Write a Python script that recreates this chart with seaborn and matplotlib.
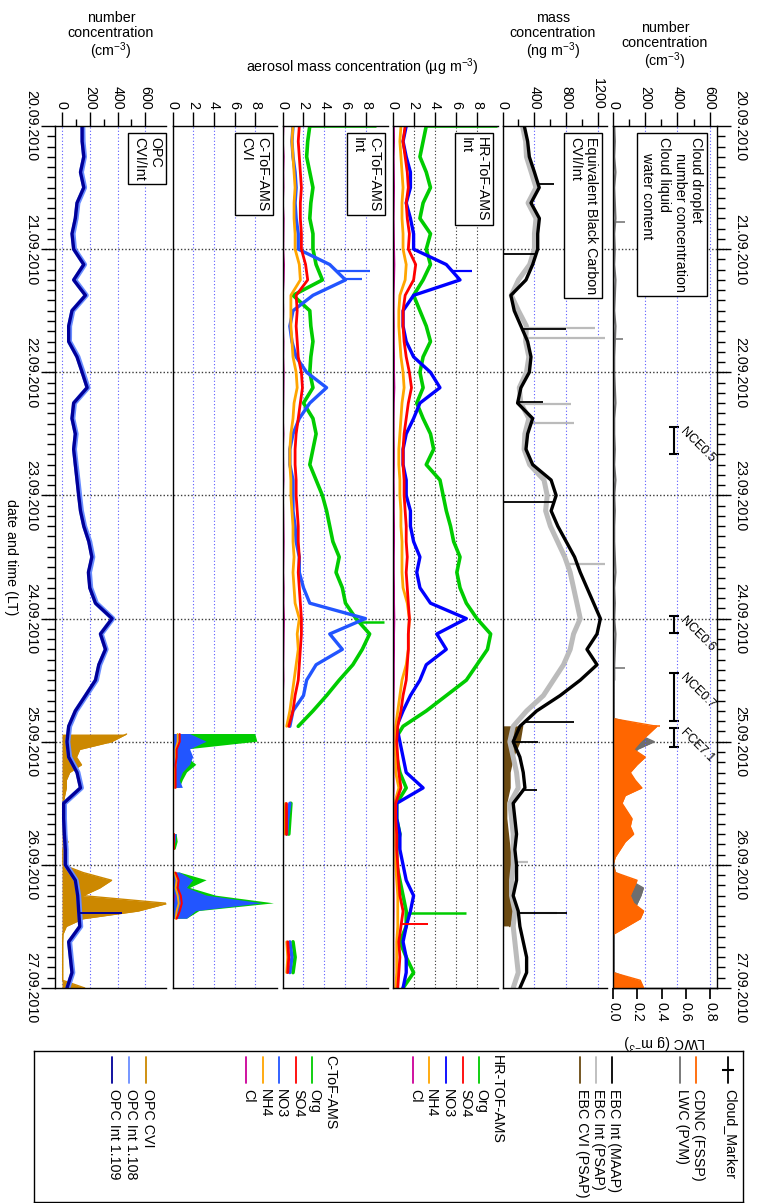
"""
Cloud and aerosol time series 20.09.-27.09.2010, drawn turned by 90 degrees:
time runs downward, the six panels sit side by side and text reads top-down.
Writes out.png (760 x 1203 px).
"""

import numpy as np
import matplotlib
matplotlib.use("Agg")
import matplotlib.pyplot as plt
import seaborn as sns
from matplotlib.ticker import FixedLocator, MultipleLocator, FormatStrFormatter, NullLocator

nan = np.nan

# ---------------------------------------------------------------------------
# Data. Time is in days since 20.09.2010 00:00 LT.
# 3-hourly series: one row per day (8 values) plus the 27.09 00:00 value.
# Cloud period series: 1.5-hourly from 24.09 12:00 to 27.09 00:00.
# ---------------------------------------------------------------------------
t3 = np.arange(57) / 8.0
tc = 4.5 + np.arange(41) / 16.0

date_labels = ["20.09.2010", "21.09.2010", "22.09.2010", "23.09.2010",
               "24.09.2010", "25.09.2010", "26.09.2010", "27.09.2010"]
day_ticks = [0, 1, 2, 3, 4, 5, 6, 7]
day_lines = [1, 2, 3, 4, 5, 6]

# OPC (cm-3)
opc_int109 = [145, 145, 157, 133, 157, 108, 96, 72,
              84, 157, 84, 169, 72, 48, 48, 108,
              145, 181, 84, 72, 96, 84, 96, 108,
              120, 133, 157, 193, 215, 190, 200, 241,
              361, 277, 313, 265, 241, 169, 96, 48,
              36, 48, 108, 133, 12, 12, 17, 24,
              24, 96, 113, 120, 128, 48, 60, 72,
              36]
opc_int108 = [150, 152, 162, 140, 163, 115, 102, 80,
              90, 163, 92, 175, 78, 55, 54, 115,
              152, 187, 90, 78, 102, 90, 102, 115,
              127, 140, 163, 200, 222, 198, 207, 248,
              366, 283, 318, 272, 248, 175, 102, 55,
              42, 55, 115, 140, 18, 18, 22, 30,
              30, 102, 120, 127, 135, 55, 66, 78,
              42]
opc_cvi = [nan, nan, nan, nan, nan, nan, nan, 465, 357, 128, 104, 140, 55, 31,
           31, 19, 10, 8, 5, 5, 10, 43, 7, 7, 7, 152, 357, 272, 152, 760, 549,
           152, 31, 7, 5, 5, 5, 5, 5, 5, 164]
opc_spike_t = [0.004, 6.39]
opc_spike_v = [456, 429]

# C-ToF-AMS CVI (ug m-3), cloud grid
cvi_org = [nan] * 7 + [8.0, 8.2, 1.4, 1.4, 2.3, 1.4, 1.0, 0.7] + [nan] * 5 + \
          [0.4, 0.5, 0.3, nan, nan, 0.7, 3.3, 1.7, 4.2, 9.8, 2.6, 1.4] + [nan] * 9
cvi_no3 = [nan] * 7 + [1.7, 3.3, 1.7, 2.0, 1.7, 1.0, 0.7, 1.0] + [nan] * 5 + \
          [0.4, 0.3, 0.1, nan, nan, 0.7, 2.0, 1.4, 3.3, 8.7, 2.3, 1.4] + [nan] * 9
cvi_so4 = [nan] * 7 + [0.7, 0.7, 0.4, 0.4, 0.3, 0.3, 0.3, 0.3] + [nan] * 5 + \
          [0.1, 0.1, 0.1, nan, nan, 0.3, 0.6, 0.5, 0.8, 0.9, 0.7, 0.4] + [nan] * 9
cvi_nh4 = [nan] * 7 + [0.5, 0.5, 0.3, 0.3, 0.3, 0.2, 0.2, 0.2] + [nan] * 5 + \
          [0.1, 0.1, 0.1, nan, nan, 0.2, 0.4, 0.3, 0.5, 0.6, 0.4, 0.3] + [nan] * 9
cvi_cl = [nan] * 7 + [-0.3, 0.1, 0.0, -0.2, 0.1, 0.0, -0.1, 0.1] + [nan] * 5 + \
         [0.0, 0.1, 0.0, nan, nan, -0.2, 0.1, -0.3, 0.2, 0.1, -0.2, 0.0] + [nan] * 9

# C-ToF-AMS Int (ug m-3)
int_org = [2.6, 2.4, 2.3, 2.6, 2.9, 2.7, 2.6, 2.9,
           2.9, 3.2, 3.8, 1.0, 2.6, 2.7, 2.9, 2.7,
           2.6, 2.9, 2.0, 2.9, 3.2, 2.9, 2.6, 3.2,
           3.8, 4.2, 4.5, 4.8, 5.4, 5.1, 5.7, 6.0,
           7.0, 8.3, 7.6, 6.7, 5.4, 4.2, 2.9, 1.5,
           nan, nan, nan, nan, 0.8, 0.7, 0.6, nan,
           nan, nan, nan, nan, nan, 1.0, 1.2, 1.0,
           nan]
int_no3 = [1.0, 0.9, 1.0, 1.2, 1.3, 1.2, 1.3, 1.5,
           1.5, 4.5, 6.0, 2.9, 1.0, 0.7, 0.9, 1.3,
           2.3, 4.2, 2.6, 1.6, 1.0, 0.7, 0.7, 1.0,
           1.0, 1.0, 1.2, 1.3, 1.6, 1.6, 2.0, 2.6,
           7.9, 4.5, 5.7, 3.2, 2.3, 2.0, 1.0, 0.7,
           nan, nan, nan, nan, 0.7, 0.5, 0.4, nan,
           nan, nan, nan, nan, nan, 0.7, 0.9, 0.7,
           nan]
int_so4 = [1.6, 1.5, 1.6, 1.7, 1.8, 1.7, 1.7, 1.8,
           1.8, 2.2, 2.4, 1.3, 1.4, 1.3, 1.4, 1.5,
           1.8, 1.9, 1.7, 1.5, 1.3, 1.2, 1.2, 1.3,
           1.3, 1.4, 1.5, 1.5, 1.6, 1.5, 1.6, 1.7,
           1.8, 1.8, 1.7, 1.6, 1.5, 1.2, 1.0, 0.6,
           nan, nan, nan, nan, 0.3, 0.3, 0.3, nan,
           nan, nan, nan, nan, nan, 0.5, 0.6, 0.5,
           nan]
int_nh4 = [1.0, 0.9, 1.0, 1.1, 1.2, 1.1, 1.1, 1.2,
           1.2, 1.6, 1.7, 0.8, 0.8, 0.8, 0.9, 1.0,
           1.3, 1.4, 1.1, 1.0, 0.8, 0.7, 0.7, 0.8,
           0.8, 0.9, 1.0, 1.0, 1.1, 1.0, 1.1, 1.2,
           1.6, 1.4, 1.5, 1.3, 1.1, 0.9, 0.7, 0.4,
           nan, nan, nan, nan, 0.3, 0.2, 0.2, nan,
           nan, nan, nan, nan, nan, 0.4, 0.5, 0.4,
           nan]
int_cl = [0.10, 0.05, 0.12, 0.08, 0.10, 0.05, 0.12, 0.10,
          0.08, 0.15, 0.12, 0.05, 0.08, 0.05, 0.10, 0.08,
          0.12, 0.10, 0.08, 0.05, 0.10, 0.05, 0.08, 0.10,
          0.05, 0.08, 0.10, 0.12, 0.10, 0.08, 0.12, 0.10,
          0.15, 0.12, 0.10, 0.08, 0.10, 0.05, 0.05, 0.02,
          nan, nan, nan, nan, 0.02, 0.00, 0.02, nan,
          nan, nan, nan, nan, nan, 0.05, 0.02, 0.05,
          nan]
int_org_spike_t = [0.004, 4.03]
int_org_spike_v = [8.9, 9.7]
int_no3_spike_t = [1.18, 1.24]
int_no3_spike_v = [8.3, 7.6]

# HR-ToF-AMS Int (ug m-3)
hr_org = [3.2, 2.9, 2.6, 3.2, 3.6, 2.9, 2.6, 3.6,
          3.2, 3.6, 2.9, 2.0, 2.6, 3.2, 3.6, 2.9,
          2.6, 2.9, 2.3, 2.9, 3.6, 3.9, 3.2, 4.5,
          4.8, 5.1, 5.5, 5.8, 6.4, 6.1, 6.4, 7.0,
          8.0, 9.3, 9.0, 8.0, 7.0, 5.1, 3.2, 1.0,
          0.1, 0.4, 0.7, 1.3, 0.4, 0.4, 0.7, 0.4,
          0.4, 0.7, 1.0, 1.3, 1.3, 0.7, 1.3, 2.0,
          1.0]
hr_no3 = [1.3, 1.0, 1.3, 1.7, 1.7, 1.3, 1.7, 2.0,
          2.0, 5.1, 6.4, 2.0, 1.0, 1.0, 1.3, 2.0,
          3.6, 4.5, 2.6, 2.0, 1.3, 1.0, 1.0, 1.3,
          1.3, 1.7, 1.7, 2.0, 2.6, 2.3, 2.6, 3.6,
          7.0, 4.2, 5.1, 3.2, 2.6, 1.7, 1.0, 0.4,
          0.7, 1.0, 1.3, 2.9, 0.4, 0.4, 0.7, 0.7,
          1.0, 1.3, 2.0, 1.7, 1.3, 1.0, 1.3, 1.3,
          1.0]
hr_so4 = [1.2, 1.0, 1.2, 1.4, 1.5, 1.3, 1.4, 1.6,
          1.5, 2.2, 2.0, 1.2, 1.0, 1.0, 1.1, 1.3,
          1.6, 1.8, 1.5, 1.3, 1.1, 1.0, 1.0, 1.1,
          1.1, 1.2, 1.3, 1.3, 1.4, 1.3, 1.4, 1.5,
          1.6, 1.5, 1.5, 1.4, 1.3, 1.0, 0.8, 0.5,
          0.4, 0.5, 0.6, 0.8, 0.3, 0.3, 0.4, 0.4,
          0.5, 0.6, 0.7, 1.0, 0.8, 0.6, 0.7, 0.6,
          0.5]
hr_nh4 = [0.8, 0.7, 0.8, 0.9, 1.0, 0.9, 0.9, 1.0,
          1.0, 1.3, 1.2, 0.7, 0.6, 0.6, 0.7, 0.8,
          1.0, 1.1, 0.9, 0.8, 0.7, 0.6, 0.6, 0.7,
          0.7, 0.8, 0.8, 0.9, 0.9, 0.9, 1.0, 1.4,
          1.6, 1.5, 1.5, 1.3, 0.9, 0.7, 0.5, 0.3,
          0.2, 0.3, 0.3, 0.6, 0.2, 0.2, 0.2, 0.3,
          0.3, 0.4, 0.5, 0.5, 0.5, 0.4, 0.4, 0.4,
          0.3]
hr_cl = [0.10, 0.12, 0.08, 0.10, 0.12, 0.10, 0.08, 0.10,
         0.12, 0.15, 0.12, 0.08, 0.08, 0.10, 0.10, 0.12,
         0.12, 0.15, 0.10, 0.08, 0.08, 0.10, 0.10, 0.08,
         0.10, 0.10, 0.12, 0.12, 0.10, 0.10, 0.12, 0.12,
         0.15, 0.12, 0.12, 0.10, 0.10, 0.08, 0.06, 0.05,
         0.05, 0.05, 0.06, 0.08, 0.04, 0.04, 0.05, 0.05,
         0.05, 0.06, 0.08, 0.08, 0.06, 0.05, 0.06, 0.06,
         0.05]
hr_org_spike_t = [0.004, 6.39]
hr_org_spike_v = [9.9, 7.0]
hr_no3_spike_t = [1.18]
hr_no3_spike_v = [7.5]
hr_so4_spike_t = [6.48]
hr_so4_spike_v = [3.4]

# Equivalent black carbon (ng m-3)
ebc_maap = [273, 315, 336, 400, 460, 357, 462, 441,
            441, 378, 294, 105, 147, 231, 315, 357,
            336, 231, 189, 378, 315, 294, 378, 609,
            672, 609, 693, 798, 903, 974, 1058, 1142,
            1226, 1184, 1058, 1184, 974, 722, 428, 218,
            134, 218, 260, 281, 134, 155, 176, 155,
            176, 176, 134, 197, 218, 260, 302, 302,
            218]
ebc_psap = [250, 290, 300, 360, 420, 320, 420, 400,
            400, 340, 200, 110, 200, 300, 290, 330,
            300, 210, 230, 330, 280, 270, 340, 520,
            560, 540, 600, 690, 780, 848, 890, 932,
            974, 890, 848, 764, 638, 512, 302, 134,
            92, 134, 176, 197, 92, 113, 134, 134,
            134, 113, 113, 155, 134, 155, 176, 197,
            134]
ebc_cvi = [0, 0, 0, 0, nan, nan, nan, nan,
           nan, nan, nan, nan, nan, nan, nan, nan,
           nan, nan, nan, nan, nan, nan, nan, nan,
           nan, nan, nan, nan, nan, nan, nan, nan,
           nan, nan, nan, nan, nan, nan, nan, 250,
           218, 134, 92, 92, 50, 50, 71, 92,
           113, 134, 134, 134, 92, nan, nan, nan,
           nan]
maap_spike_t = [0.47, 1.04, 1.65, 2.24, 3.05, 4.84, 5.0, 5.39, 6.39]
maap_spike_v = [650, 0, 800, 505, 0, 890, 450, 430, 805]
psap_spike_t = [1.64, 1.72, 2.26, 2.41, 3.56, 5.98, 6.39]
psap_spike_v = [1155, 1280, 860, 900, 1290, 323, 680]

# Cloud droplets (cm-3) and liquid water content (g m-3)
cdnc = [0, 0, 0, 0, 0, 0, 272, 221, 169, 128, 200, 149, 107, 138, 179, 76,
        56, 87, 118, 107, 128, 76, 45, 14, 0, 14, 149, 128, 107, 128, 190,
        169, 87, 4, 0, 0, 0, 0, 0, 169, 190]
lwc_cloud = [0.01, 0.01, 0.01, 0.01, 0.01, 0.01, 0.25, 0.20, 0.34, 0.20, 0.17,
             0.14, 0.09, 0.12, 0.14, 0.06, 0.03, 0.06, 0.09, 0.12, 0.09, 0.06,
             0.03, 0.01, 0.005, 0.02, 0.14, 0.25, 0.23, 0.20, 0.17, 0.14, 0.06,
             0.01, 0.01, 0.01, 0.01, 0.01, 0.01, 0.17, 0.06]
lwc_clear = [0.010, 0.015, 0.010, 0.020, 0.010, 0.015, 0.020, 0.010,
             0.015, 0.010, 0.020, 0.015, 0.010, 0.020, 0.015, 0.010,
             0.010, 0.015, 0.020, 0.010, 0.010, 0.015, 0.010, 0.020,
             0.010, 0.015, 0.010, 0.010, 0.015, 0.020, 0.010, 0.015,
             0.010, 0.020, 0.015, 0.010, 0.010]
lwc_spike_t = [0.78, 1.73, 4.40]
lwc_spike_v = [0.10, 0.08, 0.10]
cdnc_spike_t = [4.87]
cdnc_spike_v = [293]

# cloud events (days), drawn on the LWC scale
cm_labels = ["NCE0.5", "NCE0.6", "NCE0.7", "FCE7.1"]
cm_start = [2.447, 3.98, 4.44, 4.89]
cm_end = [2.667, 4.12, 4.83, 5.04]
cm_level = 0.5

# ---------------------------------------------------------------------------
# Colours
# ---------------------------------------------------------------------------
C_ORG, C_SO4, C_NH4, C_CL = "#00CC00", "#FF0000", "#FFA500", "#CC0099"
C_NO3_HR, C_NO3_C = "#0000FF", "#2255FF"
C_OPC109, C_OPC108, C_OPCCVI = "#000099", "#6A8DFF", "#CC8800"
C_MAAP, C_PSAP, C_EBCCVI = "#000000", "#BBBBBB", "#6B4A12"
C_CDNC, C_LWC = "#FF6600", "#6E6E6E"
GRID_BLUE, GRID_BLACK = "#5a5aff", "#333333"

sns.set_theme(style="ticks", rc={
    "axes.edgecolor": "black", "axes.linewidth": 1.0,
    "xtick.color": "black", "ytick.color": "black",
    "text.color": "black", "axes.labelcolor": "black",
})
plt.rcParams["font.family"] = ["Liberation Sans", "DejaVu Sans"]
plt.rcParams["mathtext.default"] = "regular"
plt.rcParams["font.size"] = 10.3
plt.rcParams["xtick.labelsize"] = 10.3
plt.rcParams["ytick.labelsize"] = 10.3

FS = 10.3
W, H = 760, 1203
Y_TOP, Y_BOT = 126, 988


def trace(ax, t, v, color, lw=1.5, z=2):
    """Line plot along time (vertical), broken at NaNs."""
    t = np.asarray(t, float)
    v = np.asarray(v, float)
    ok = ~np.isnan(v)
    seg = np.cumsum(~ok)
    for s in np.unique(seg[ok]):
        m = ok & (seg == s)
        if m.sum() < 2:
            continue
        sns.lineplot(x=v[m], y=t[m], orient="y", sort=False, estimator=None,
                     color=color, linewidth=lw, ax=ax, zorder=z, legend=False)


def band(ax, t, v, color, z=1.8):
    ax.fill_betweenx(t, 0, np.asarray(v, float), color=color, lw=0, zorder=z)


def needles(ax, t, v, st, sv, color, lw=1.1):
    base = np.interp(st, t, np.nan_to_num(np.asarray(v, float)))
    ax.hlines(st, base, sv, colors=color, lw=lw, zorder=2)


fig = plt.figure(figsize=(W / 100, H / 100), dpi=100)


def panel(x0, x1):
    return fig.add_axes([x0 / W, 1 - Y_BOT / H, (x1 - x0) / W, (Y_BOT - Y_TOP) / H])


# day separators (behind the panels, also crossing the gaps)
ov = panel(45, 727)
ov.set_zorder(-1)
ov.set_ylim(7, 0)
ov.set_xlim(0, 1)
ov.axis("off")
for d in day_lines:
    ov.axhline(d, color="#3a3a3a", lw=1.0, ls=(0, (1, 1.5)))

ax_opc = panel(55, 166)
ax_cvi = panel(172.5, 277)
ax_int = panel(282.5, 388)
ax_hr = panel(392.5, 498)
ax_ebc = panel(502.5, 607)
ax_cdnc = panel(613, 717)
ax_lwc = ax_cdnc.twiny()

# ---- OPC ------------------------------------------------------------------
band(ax_opc, tc, opc_cvi, C_OPCCVI)
trace(ax_opc, tc, opc_cvi, C_OPCCVI, lw=1.0)
trace(ax_opc, t3, opc_int108, C_OPC108, lw=3.6)
trace(ax_opc, t3, opc_int109, C_OPC109, lw=2.4)
needles(ax_opc, t3, opc_int109, opc_spike_t, opc_spike_v, C_OPC109, lw=1.4)

# ---- C-ToF-AMS CVI --------------------------------------------------------
band(ax_cvi, tc, cvi_org, C_ORG)
band(ax_cvi, tc, cvi_no3, C_NO3_C, z=1.9)
trace(ax_cvi, tc, cvi_nh4, C_NH4, lw=1.4)
trace(ax_cvi, tc, cvi_so4, C_SO4, lw=1.4)
trace(ax_cvi, tc, cvi_cl, C_CL, lw=1.0)

# ---- C-ToF-AMS Int --------------------------------------------------------
trace(ax_int, t3, int_org, C_ORG, lw=2.6)
needles(ax_int, t3, int_org, int_org_spike_t, int_org_spike_v, C_ORG, lw=1.8)
trace(ax_int, t3, int_no3, C_NO3_C, lw=2.4)
needles(ax_int, t3, int_no3, int_no3_spike_t, int_no3_spike_v, C_NO3_C, lw=1.6)
trace(ax_int, t3, int_nh4, C_NH4, lw=2.0)
trace(ax_int, t3, int_so4, C_SO4, lw=2.0)
trace(ax_int, t3, int_cl, C_CL, lw=1.2)

# ---- HR-ToF-AMS -----------------------------------------------------------
trace(ax_hr, t3, hr_org, C_ORG, lw=2.6)
needles(ax_hr, t3, hr_org, hr_org_spike_t, hr_org_spike_v, C_ORG, lw=1.8)
trace(ax_hr, t3, hr_no3, C_NO3_HR, lw=2.4)
needles(ax_hr, t3, hr_no3, hr_no3_spike_t, hr_no3_spike_v, C_NO3_HR, lw=1.6)
trace(ax_hr, t3, hr_nh4, C_NH4, lw=2.0)
trace(ax_hr, t3, hr_so4, C_SO4, lw=2.0)
needles(ax_hr, t3, hr_so4, hr_so4_spike_t, hr_so4_spike_v, C_SO4, lw=1.4)
trace(ax_hr, t3, hr_cl, C_CL, lw=1.8)

# ---- Equivalent black carbon ---------------------------------------------
band(ax_ebc, t3, ebc_cvi, C_EBCCVI)
trace(ax_ebc, t3, ebc_cvi, C_EBCCVI, lw=1.2)
trace(ax_ebc, t3, ebc_psap, C_PSAP, lw=3.6)
needles(ax_ebc, t3, ebc_psap, psap_spike_t, psap_spike_v, C_PSAP, lw=1.6)
trace(ax_ebc, t3, ebc_maap, C_MAAP, lw=2.4)
needles(ax_ebc, t3, ebc_maap, maap_spike_t, maap_spike_v, C_MAAP, lw=1.3)

# ---- CDNC / LWC -----------------------------------------------------------
band(ax_lwc, tc, lwc_cloud, C_LWC)
trace(ax_lwc, tc, lwc_cloud, C_LWC, lw=1.0)
trace(ax_lwc, t3[:len(lwc_clear)], lwc_clear, C_LWC, lw=1.6)
needles(ax_lwc, t3[:len(lwc_clear)], lwc_clear, lwc_spike_t, lwc_spike_v, C_LWC)
band(ax_cdnc, tc, cdnc, C_CDNC)
trace(ax_cdnc, tc, cdnc, C_CDNC, lw=1.0)
needles(ax_cdnc, tc, cdnc, cdnc_spike_t, cdnc_spike_v, C_CDNC)

cm_s, cm_e = np.array(cm_start), np.array(cm_end)
ax_lwc.errorbar(x=[cm_level] * len(cm_s), y=(cm_s + cm_e) / 2, yerr=(cm_e - cm_s) / 2,
                fmt="none", ecolor="black", elinewidth=1.5, capsize=3.6, capthick=1.5)
for lab, t0 in zip(cm_labels, cm_start):
    ax_lwc.annotate(lab, xy=(cm_level, t0), xytext=(8, -3), textcoords="offset pixels",
                    rotation=-45, rotation_mode="anchor", ha="left", va="center",
                    fontsize=9)


# ---- axes styling ---------------------------------------------------------
def style_panel(ax, xlim, major, minor=None, grid_color=GRID_BLUE):
    ax.set_facecolor("none")
    ax.set_xlim(*xlim)
    ax.set_ylim(7, 0)
    ax.set_xlabel("")
    ax.set_ylabel("")
    ax.xaxis.tick_top()
    ax.xaxis.set_major_locator(FixedLocator(major))
    ax.xaxis.set_minor_locator(FixedLocator(minor) if minor else NullLocator())
    ax.tick_params(axis="x", which="both", top=True, bottom=False, labeltop=True,
                   labelbottom=False, direction="out", labelrotation=270, pad=2)
    ax.tick_params(axis="x", which="major", length=10, width=1)
    ax.tick_params(axis="x", which="minor", length=5, width=1)
    ax.spines["right"].set_visible(False)
    ax.tick_params(axis="y", which="both", left=False, right=False,
                   labelleft=False, labelright=False)
    ax.grid(axis="x", which="major", color=grid_color, ls=(0, (1, 2)), lw=0.8)
    ax.grid(axis="y", visible=False)


style_panel(ax_opc, (-50.4, 749), [0, 200, 400, 600], [100, 300, 500])
style_panel(ax_cvi, (0, 10.1), [0, 2, 4, 6, 8])
style_panel(ax_int, (0, 10.05), [0, 2, 4, 6, 8])
style_panel(ax_hr, (0, 10.0), [0, 2, 4, 6, 8], grid_color=GRID_BLACK)
style_panel(ax_ebc, (0, 1309), [0, 400, 800, 1200], [200, 600, 1000])
style_panel(ax_cdnc, (0, 645), [0, 200, 400, 600], [100, 300, 500])

# time axes: left on the OPC panel, right on the CDNC panel
for ax, side in ((ax_opc, "left"), (ax_cdnc, "right")):
    ax.yaxis.set_major_locator(FixedLocator(day_ticks))
    ax.yaxis.set_minor_locator(MultipleLocator(1 / 12))
    if side == "left":
        ax.yaxis.tick_left()
        ax.tick_params(axis="y", which="both", left=True, right=False, labelleft=True,
                       labelright=False, direction="out", pad=2)
        ax.set_yticks(day_ticks, date_labels, rotation=270, va="center", ha="right")
    else:
        ax.spines["right"].set_visible(True)
        ax.yaxis.tick_right()
        ax.tick_params(axis="y", which="both", left=False, right=True, labelleft=False,
                       labelright=True, direction="out", pad=2)
        ax.set_yticks(day_ticks, date_labels, rotation=270, va="center", ha="left")
    ax.tick_params(axis="y", which="major", length=10, width=1)
    ax.tick_params(axis="y", which="minor", length=6, width=1)
    ax.set_ylim(7, 0)

# LWC scale at the bottom of the cloud panel
ax_lwc.set_xlim(0, 0.8577)
ax_lwc.set_ylim(7, 0)
ax_lwc.xaxis.tick_bottom()
ax_lwc.xaxis.set_label_position("bottom")
ax_lwc.xaxis.set_major_locator(FixedLocator([0.0, 0.2, 0.4, 0.6, 0.8]))
ax_lwc.xaxis.set_major_formatter(FormatStrFormatter("%.1f"))
ax_lwc.tick_params(axis="x", which="both", top=False, bottom=True, labeltop=False,
                   labelbottom=True, direction="out", labelrotation=270, length=8, pad=2)
for sp in ("top", "left", "right"):
    ax_lwc.spines[sp].set_visible(False)
ax_lwc.set_ylabel("")
ax_lwc.set_xlabel("LWC (g m$^{-3}$)", rotation=180, labelpad=7, fontsize=FS)
ax_lwc.grid(False)
ax_cdnc.set_zorder(ax_lwc.get_zorder() + 1)
ax_cdnc.patch.set_visible(False)

# ---- labels in boxes ------------------------------------------------------
box_texts = ["OPC\nCVI/Int", "C-ToF-AMS\nCVI", "C-ToF-AMS\nInt", "HR-ToF-AMS\nInt",
             "Equivalent Black Carbon\nCVI/Int",
             "Cloud droplet\n    number concentration\nCloud liquid\n    water content"]
box_dx = [4, 8, 7, 9, 9, 14]
for ax, txt, dx in zip([ax_opc, ax_cvi, ax_int, ax_hr, ax_ebc, ax_cdnc], box_texts, box_dx):
    ax.annotate(txt, xy=(1, 1), xycoords="axes fraction", xytext=(-dx, -11),
                textcoords="offset pixels", rotation=270, ha="right", va="top",
                ma="left", fontsize=FS, zorder=6,
                bbox=dict(boxstyle="square,pad=0.25", fc="white", ec="black", lw=1))

# ---- titles above the panels ---------------------------------------------
titles = [(111, 11, "number\nconcentration\n(cm$^{-3}$)", "top"),
          (553, 11, "mass\nconcentration\n(ng m$^{-3}$)", "top"),
          (665, 21, "number\nconcentration\n(cm$^{-3}$)", "top"),
          (362, 67, "aerosol mass concentration (µg m$^{-3}$)", "center")]
for x, y, s, va in titles:
    fig.text(x / W, 1 - y / H, s, ha="center", va=va, fontsize=FS, linespacing=1.05)
fig.text(11 / W, 1 - 557 / H, "date and time (LT)", rotation=270,
         ha="center", va="center", fontsize=FS)

# ---- legend (drawn by hand, text turned like the rest) -------------------
lg = fig.add_axes([34 / W, 1 / H, 709 / W, 151 / H])
lg.set_zorder(20)
lg.set_facecolor("white")
lg.set_xlim(34, 743)
lg.set_ylim(1202, 1051)
lg.set_xticks([])
lg.set_yticks([])
for sp in lg.spines.values():
    sp.set_visible(True)
    sp.set_color("black")
    sp.set_linewidth(1.0)

legend_items = [
    ("Cloud_Marker", "black", 728, "marker"),
    ("CDNC (FSSP)", C_CDNC, 696, "line"),
    ("LWC (PVM)", C_LWC, 680, "line"),
    ("EBC Int (MAAP)", C_MAAP, 612, "line"),
    ("EBC Int (PSAP)", C_PSAP, 596, "line"),
    ("EBC CVI (PSAP)", C_EBCCVI, 580, "line"),
    ("HR-TOF-AMS", None, 495, "header"),
    ("Org", C_ORG, 479, "line"),
    ("SO4", C_SO4, 463, "line"),
    ("NO3", C_NO3_HR, 446, "line"),
    ("NH4", C_NH4, 429, "line"),
    ("Cl", C_CL, 413, "line"),
    ("C-ToF-AMS", None, 328, "header"),
    ("Org", C_ORG, 312, "line"),
    ("SO4", C_SO4, 296, "line"),
    ("NO3", C_NO3_C, 279, "line"),
    ("NH4", C_NH4, 263, "line"),
    ("Cl", C_CL, 246, "line"),
    ("OPC CVI", C_OPCCVI, 146, "line"),
    ("OPC Int 1.108", C_OPC108, 129, "line"),
    ("OPC Int 1.109", C_OPC109, 112, "line"),
]
for label, color, x, kind in legend_items:
    if kind == "header":
        lg.text(x + 2, 1055, label, rotation=270, rotation_mode="anchor",
                ha="left", va="center", fontsize=FS)
        continue
    lg.plot([x, x], [1057, 1083], color=color, lw=1.3)
    if kind == "marker":
        lg.plot([x], [1070], color=color, marker="_", ms=8, mew=1.5)
    lg.text(x + 2, 1089, label, rotation=270, rotation_mode="anchor",
            ha="left", va="center", fontsize=FS)

fig.savefig("out.png", dpi=100)
